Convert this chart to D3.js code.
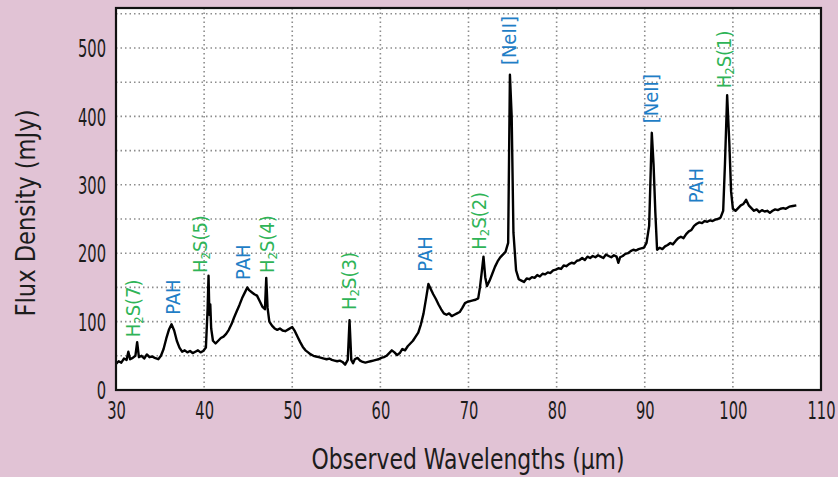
<!DOCTYPE html>
<html>
<head>
<meta charset="utf-8">
<script src="https://cdn.jsdelivr.net/npm/d3@7/dist/d3.min.js"></script>
<style>
  html, body { margin: 0; padding: 0; background: #e1c3d5; }
  svg { display: block; }
  .cond { font-family: "DejaVu Sans Condensed", "DejaVu Sans", sans-serif; }
</style>
</head>
<body>
<svg id="chart" width="838" height="477"></svg>
<script>
// Spectrum: observed wavelength (µm) and flux density (mJy)
const wavelength = [
  30.0, 30.3, 30.6, 30.9, 31.2, 31.4, 31.6, 31.9, 32.2, 32.4, 32.6, 32.9, 33.2, 33.5, 33.8, 34.1, 34.4, 34.8,
  35.1, 35.4, 35.7, 36.0, 36.3, 36.6, 36.9, 37.2, 37.5, 37.8, 38.1, 38.4, 38.7, 39.0, 39.3, 39.6, 39.9,
  40.2, 40.4, 40.5, 40.6, 40.7, 40.8, 41.0, 41.3, 41.6, 41.9, 42.2, 42.5, 42.8, 43.1, 43.4, 43.7, 44.0,
  44.3, 44.6, 44.9, 45.1, 45.4, 45.7, 46.0, 46.3, 46.6, 46.9, 47.05, 47.2, 47.4, 47.7, 48.0, 48.3, 48.6,
  48.9, 49.2, 49.6, 50.0, 50.3, 50.6, 50.9, 51.2, 51.5, 51.8, 52.1, 52.4, 52.7, 53.0, 53.3, 53.6, 53.9,
  54.2, 54.5, 54.8, 55.1, 55.4, 55.7, 56.0, 56.3, 56.5, 56.7, 56.9, 57.1, 57.4, 57.7, 58.0, 58.3, 58.6,
  58.9, 59.2, 59.5, 59.8, 60.1, 60.4, 60.7, 61.0, 61.3, 61.6, 61.9, 62.2, 62.5, 62.8, 63.1, 63.4, 63.7,
  64.0, 64.3, 64.6, 64.9, 65.2, 65.45, 65.7, 66.0, 66.3, 66.6, 66.9, 67.2, 67.5, 67.8, 68.1, 68.4, 68.7,
  69.0, 69.3, 69.6, 69.9, 70.2, 70.5, 70.8, 71.1, 71.3, 71.5, 71.7, 71.9, 72.1, 72.4, 72.7, 73.0, 73.3,
  73.6, 73.9, 74.2, 74.5, 74.7, 74.9, 75.1, 75.4, 75.7, 76.0, 76.3, 76.6, 76.9, 77.2, 77.5, 77.8, 78.1,
  78.4, 78.7, 79.0, 79.3, 79.6, 79.9, 80.2, 80.5, 80.8, 81.1, 81.4, 81.7, 82.0, 82.3, 82.6, 82.9, 83.2,
  83.5, 83.8, 84.1, 84.4, 84.7, 85.0, 85.3, 85.6, 85.9, 86.2, 86.5, 86.8, 87.0, 87.2, 87.5, 87.8, 88.1,
  88.4, 88.7, 89.0, 89.3, 89.6, 89.9, 90.2, 90.5, 90.8, 91.0, 91.2, 91.4, 91.7, 92.0, 92.3, 92.6, 92.9,
  93.2, 93.5, 93.8, 94.1, 94.4, 94.7, 95.0, 95.3, 95.6, 95.9, 96.2, 96.5, 96.8, 97.1, 97.4, 97.7, 98.0,
  98.3, 98.6, 98.9, 99.1, 99.35, 99.6, 99.8, 100.0, 100.3, 100.6, 100.9, 101.2, 101.5, 101.8, 102.1,
  102.4, 102.7, 103.0, 103.3, 103.6, 103.9, 104.2, 104.5, 104.8, 105.1, 105.4, 105.7, 106.0, 106.4,
  106.8, 107.2
];
const flux = [
  38, 42, 40, 46, 44, 56, 45, 47, 50, 70, 48, 50, 46, 52, 48, 49, 47, 45,
  50, 60, 75, 88, 96, 87, 72, 62, 56, 58, 55, 57, 54, 56, 58, 55, 57,
  62, 120, 167, 110, 125, 90, 72, 68, 72, 76, 78, 82, 88, 96, 106, 115, 124,
  134, 142, 150, 146, 143, 140, 138, 130, 122, 118, 164, 120, 100, 94, 90, 88, 90,
  87, 86, 89, 92, 86, 78, 70, 63, 58, 55, 52, 50, 49, 48, 47, 46, 45,
  46, 44, 43, 42, 43, 41, 37, 44, 102, 44, 39, 45, 47, 43, 41, 40, 41,
  42, 43, 44, 45, 47, 48, 50, 54, 58, 55, 51, 54, 60, 58, 64, 68, 72,
  78, 84, 96, 112, 135, 155, 148, 140, 133, 125, 118, 112, 110, 112, 108, 110, 112,
  114, 120, 127, 129, 130, 131, 132, 134, 150, 172, 195, 165, 152, 160, 170, 180, 188,
  194, 198, 202, 215, 461, 400, 230, 175, 162, 160, 158, 163, 162, 165, 164, 168, 166,
  170, 169, 172, 171, 175, 176, 178, 177, 182, 181, 184, 186, 185, 189, 190, 193, 190,
  195, 193, 196, 194, 197, 195, 193, 198, 196, 194, 197, 195, 186, 194, 196, 199, 200,
  203, 205, 204, 206, 207, 208, 215, 240, 376, 330, 260, 205, 208, 206, 210, 212, 215,
  213, 218, 222, 224, 222, 228, 232, 234, 240, 243, 245, 244, 247, 246, 248, 247, 249,
  250, 252, 262, 330, 431, 360, 290, 265, 262, 266, 270, 272, 278, 270, 266,
  262, 264, 260, 263, 261, 262, 259, 262, 264, 263, 265, 266, 265, 268,
  269, 270
];

// Line identifications: text, wavelength of the feature, flux where the label starts
const lineNames = ["H|2|S(7)", "PAH", "H|2|S(5)", "PAH", "H|2|S(4)", "H|2|S(3)", "PAH", "H|2|S(2)", "[NeII]", "[NeII]", "PAH", "H|2|S(1)"];
const lineWavelengths = [31.9, 36.5, 39.5, 44.4, 47.1, 56.4, 65.1, 71.2, 74.6, 90.7, 95.8, 99.0];
const labelFlux = [77, 110, 171, 161, 171, 117, 173, 205, 475, 390, 273, 441];
const lineKinds = ["h2", "pah", "h2", "pah", "h2", "h2", "pah", "h2", "ne", "ne", "pah", "h2"];

const xTicks = [30, 40, 50, 60, 70, 80, 90, 100, 110];
const yTicks = [0, 100, 200, 300, 400, 500];
const yGrid = [50, 100, 150, 200, 250, 300, 350, 400, 450, 500, 550];

const kindColor = { h2: "#2fb457", pah: "#1f7ec6", ne: "#1f7ec6" };

const svg = d3.select("#chart");
const plotLeft = 116, plotRight = 821, plotTop = 8, plotBottom = 390;

const x = d3.scaleLinear().domain([30, 110]).range([plotLeft, plotRight]);
const y = d3.scaleLinear().domain([0, 558.5]).range([plotBottom, plotTop]);

// narrow the glyphs of a text selection horizontally (condensed look)
function squeeze(sel, factor) {
  sel.each(function () {
    const len = this.getComputedTextLength();
    d3.select(this)
      .attr("textLength", (len * factor).toFixed(1))
      .attr("lengthAdjust", "spacingAndGlyphs");
  });
}

// plot background
svg.append("rect")
  .attr("x", plotLeft).attr("y", plotTop)
  .attr("width", plotRight - plotLeft).attr("height", plotBottom - plotTop)
  .attr("fill", "#ffffff");

// dotted grid
const grid = svg.append("g")
  .attr("stroke", "#8c8c8c")
  .attr("stroke-width", 1.6)
  .attr("stroke-dasharray", "1.5 3");
grid.selectAll("line.gx").data(xTicks.slice(1, -1)).join("line")
  .attr("class", "gx")
  .attr("x1", d => x(d)).attr("x2", d => x(d))
  .attr("y1", plotTop).attr("y2", plotBottom);
grid.selectAll("line.gy").data(yGrid).join("line")
  .attr("class", "gy")
  .attr("x1", plotLeft).attr("x2", plotRight)
  .attr("y1", d => y(d)).attr("y2", d => y(d));

// axes (labels only; frame is drawn separately)
const tickSqueeze = 0.68;
const xAxis = d3.axisBottom(x).tickValues(xTicks).tickSize(0).tickPadding(12);
const yAxis = d3.axisLeft(y).tickValues(yTicks).tickSize(0).tickPadding(10);

const gx = svg.append("g").attr("transform", `translate(0,${plotBottom})`).call(xAxis);
const gy = svg.append("g").attr("transform", `translate(${plotLeft},0)`).call(yAxis);
[gx, gy].forEach(g => {
  g.select(".domain").remove();
  g.selectAll("text")
    .attr("class", "cond")
    .attr("font-size", 24)
    .attr("fill", "#1c1c1c")
    .attr("transform", `scale(${tickSqueeze},1)`);
});
gy.selectAll("text").attr("dy", "0.36em").attr("x", -10 / tickSqueeze);
gx.selectAll("text").attr("dy", "0.72em");

// spectrum
const pts = wavelength.map((w, i) => [w, flux[i]]);
svg.append("path")
  .datum(pts)
  .attr("fill", "none")
  .attr("stroke", "#000")
  .attr("stroke-width", 2.4)
  .attr("stroke-linejoin", "round")
  .attr("d", d3.line().x(d => x(d[0])).y(d => y(d[1])));

// frame
svg.append("rect")
  .attr("x", plotLeft).attr("y", plotTop)
  .attr("width", plotRight - plotLeft).attr("height", plotBottom - plotTop)
  .attr("fill", "none")
  .attr("stroke", "#111")
  .attr("stroke-width", 2.2);

// line identification labels (rotated, reading upward)
const labels = svg.append("g").attr("class", "cond");
lineNames.forEach((name, i) => {
  const t = labels.append("text")
    .attr("transform", `translate(${x(lineWavelengths[i])},${y(labelFlux[i])}) rotate(-90)`)
    .attr("font-size", 20)
    .attr("dominant-baseline", "central")
    .attr("fill", kindColor[lineKinds[i]]);
  const parts = name.split("|");
  if (parts.length === 3) {
    t.append("tspan").text(parts[0]);
    t.append("tspan").text(parts[1]).attr("font-size", 13).attr("dy", 5);
    t.append("tspan").text(parts[2]).attr("dy", -5);
  } else {
    t.text(name);
  }
});

// axis titles
const xTitle = svg.append("text")
  .attr("class", "cond")
  .attr("x", 468).attr("y", 469)
  .attr("text-anchor", "middle")
  .attr("font-size", 28)
  .attr("fill", "#1c1c1c")
  .text("Observed Wavelengths (\u03bcm)");
squeeze(xTitle, 0.87);

const yTitle = svg.append("text")
  .attr("class", "cond")
  .attr("transform", "translate(25,213) rotate(-90)")
  .attr("text-anchor", "middle")
  .attr("dominant-baseline", "central")
  .attr("font-size", 27)
  .attr("fill", "#1c1c1c")
  .text("Flux Density (mJy)");
squeeze(yTitle, 0.93);
</script>
</body>
</html>
